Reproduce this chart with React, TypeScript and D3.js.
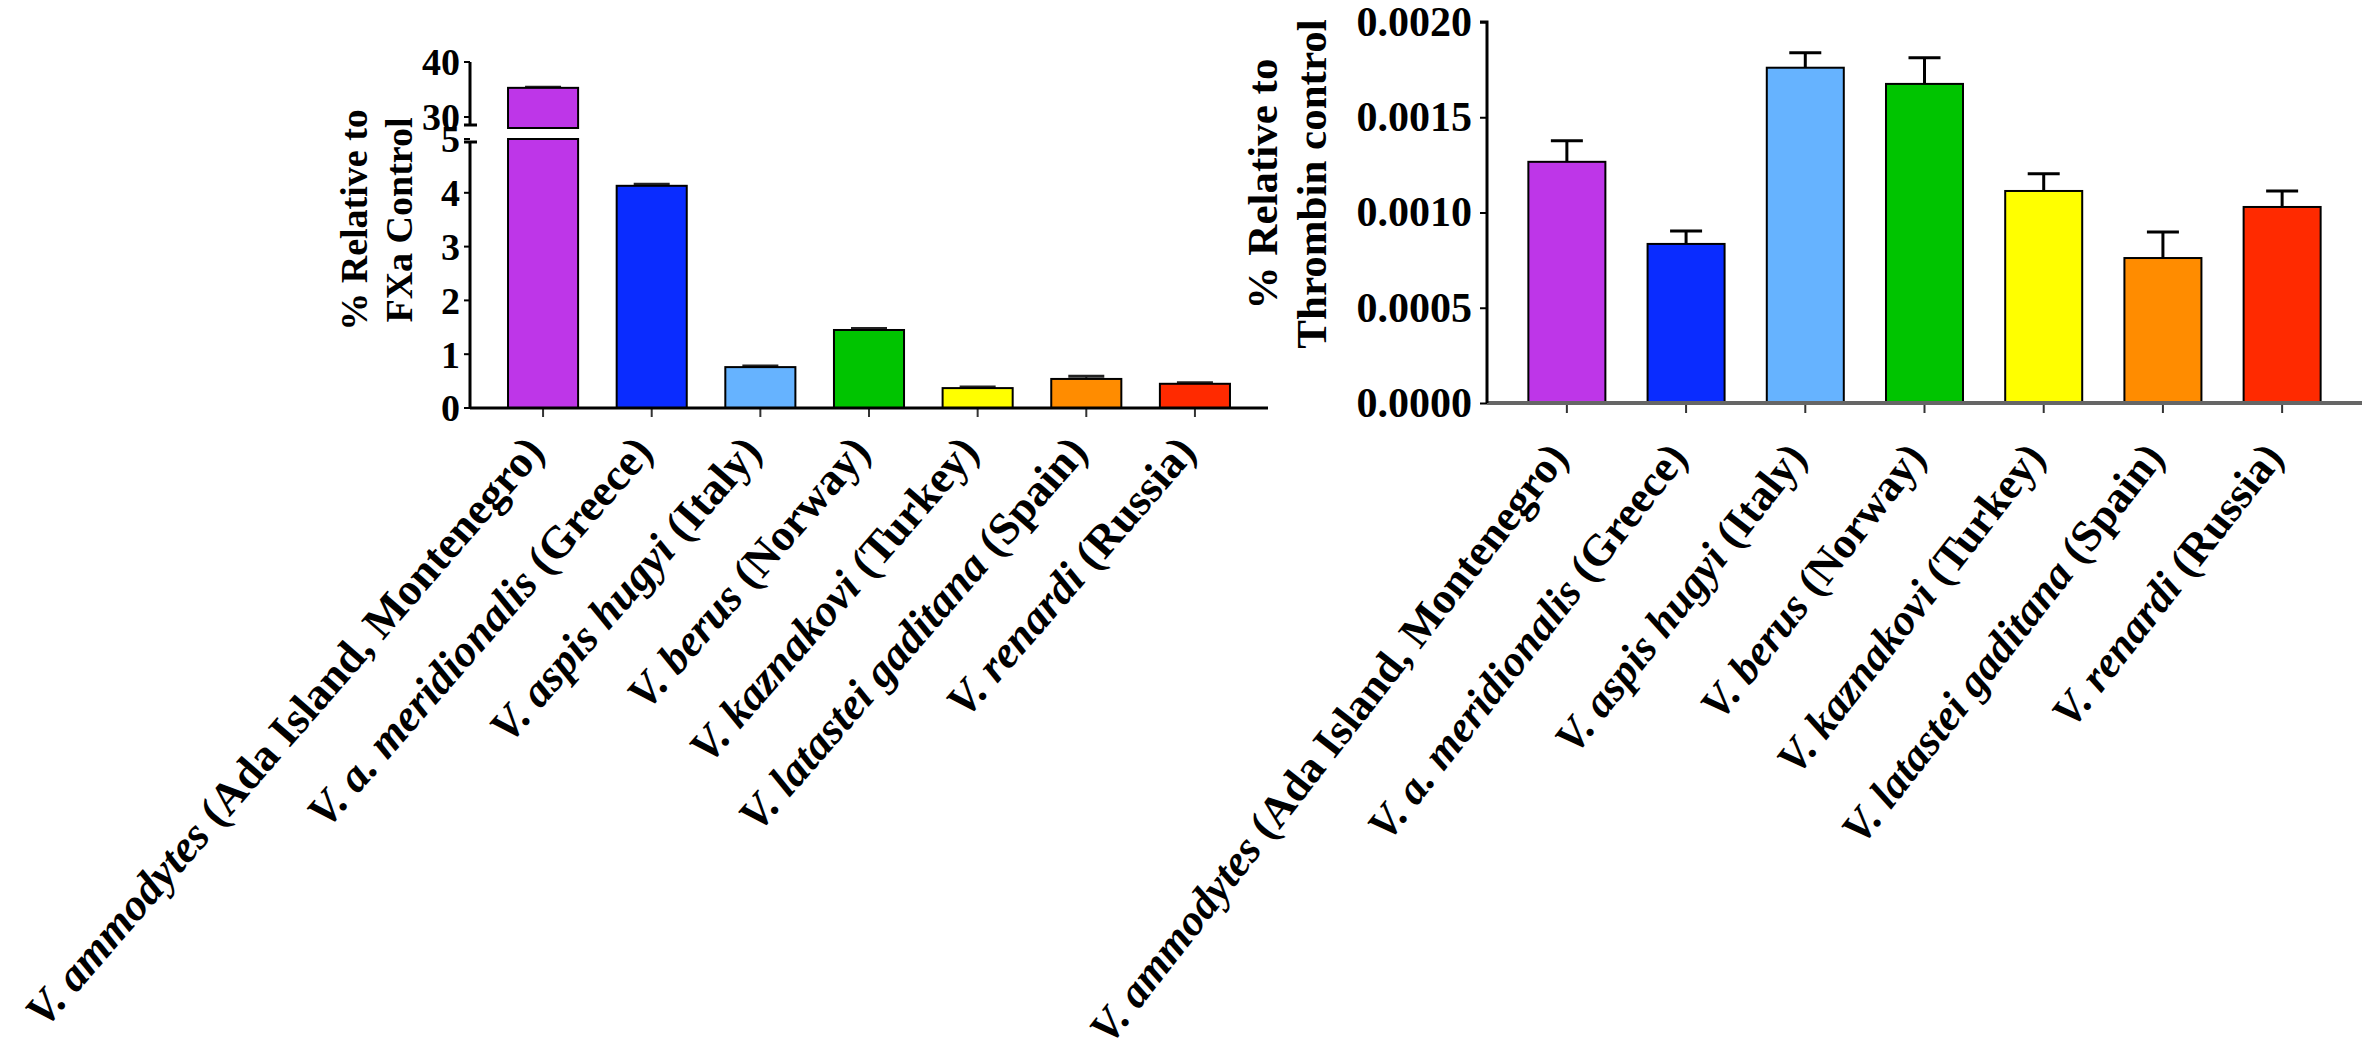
import React, { useEffect, useRef } from "react";
import * as d3 from "d3";

const species = [
  "V. ammodytes",
  "V. a. meridionalis",
  "V. aspis hugyi",
  "V. berus",
  "V. kaznakovi",
  "V. latastei gaditana",
  "V. renardi",
];
const origins = [
  "(Ada Island, Montenegro)",
  "(Greece)",
  "(Italy)",
  "(Norway)",
  "(Turkey)",
  "(Spain)",
  "(Russia)",
];
const barColors = ["#BE36E8", "#0A2CFF", "#66B3FF", "#00C400", "#FFFF00", "#FF8C00", "#FF2A00"];

// FXa panel (broken axis)
const fxaMean = [35.3, 4.13, 0.76, 1.45, 0.37, 0.54, 0.45];
const fxaSem = [0.1, 0.03, 0.02, 0.03, 0.02, 0.05, 0.02];
const fxaLowTicks = [0, 1, 2, 3, 4, 5];
const fxaHighTicks = [30, 40];

// Thrombin panel
const thrMean = [0.001266, 0.000835, 0.00176, 0.001675, 0.001113, 0.000761, 0.001029];
const thrSem = [0.00011, 0.000068, 0.000078, 0.000137, 0.00009, 0.000137, 0.000084];
const thrTicks = [0, 0.0005, 0.001, 0.0015, 0.002];

const FONT = "'Liberation Serif', 'Times New Roman', serif";

const App = () => {
  const ref = useRef(null);

  useEffect(() => {
    const svg = d3.select(ref.current);
    svg.selectAll("*").remove();
    svg.style("font-family", FONT).style("font-weight", "bold");

    // rotated category labels: italic species name + upright origin
    const addLabels = (g, x, y0, size, angle, dx, dy) => {
      species.forEach((s, i) => {
        const cx = x(s) + x.bandwidth() / 2;
        const t = g
          .append("text")
          .attr("text-anchor", "end")
          .attr("font-size", size)
          .attr("transform", `translate(${cx + dx},${y0 + dy}) rotate(${-angle})`);
        t.append("tspan").attr("font-style", "italic").text(s + " ");
        t.append("tspan").text(origins[i]);
      });
    };

    // ---------- left: FXa ----------
    const L = svg.append("g");
    const xL = d3.scaleBand().domain(species).range([470, 1268]).paddingInner(0.355).paddingOuter(0.35);
    const yLow = d3.scaleLinear().domain([0, 5]).range([408, 139]);
    const yHigh = d3.scaleLinear().domain([28, 40]).range([128, 62]);

    species.forEach((s, i) => {
      const v = fxaMean[i];
      const x0 = xL(s);
      const w = xL.bandwidth();
      const cx = x0 + w / 2;
      const top = v > 5 ? yHigh(v) : yLow(v);
      const errTop = v > 5 ? yHigh(v + fxaSem[i]) : yLow(v + fxaSem[i]);
      L.append("line").attr("x1", cx).attr("x2", cx).attr("y1", top).attr("y2", errTop).attr("stroke", "#000").attr("stroke-width", 2);
      L.append("line").attr("x1", cx - 18).attr("x2", cx + 18).attr("y1", errTop).attr("y2", errTop).attr("stroke", "#222").attr("stroke-width", 3);
      if (v > 5) {
        L.append("rect").attr("x", x0).attr("width", w).attr("y", yLow(5)).attr("height", yLow(0) - yLow(5))
          .attr("fill", barColors[i]).attr("stroke", "#000").attr("stroke-width", 2);
        L.append("rect").attr("x", x0).attr("width", w).attr("y", top).attr("height", yHigh(28) - top)
          .attr("fill", barColors[i]).attr("stroke", "#000").attr("stroke-width", 2);
      } else {
        L.append("rect").attr("x", x0).attr("width", w).attr("y", top).attr("height", yLow(0) - top)
          .attr("fill", barColors[i]).attr("stroke", "#000").attr("stroke-width", 2);
      }
      L.append("line").attr("x1", cx).attr("x2", cx).attr("y1", yLow(0)).attr("y2", yLow(0) + 9).attr("stroke", "#333").attr("stroke-width", 2);
    });

    // axes
    L.append("line").attr("x1", 470).attr("x2", 1268).attr("y1", yLow(0)).attr("y2", yLow(0)).attr("stroke", "#000").attr("stroke-width", 3);
    L.append("line").attr("x1", 470).attr("x2", 470).attr("y1", yLow(0)).attr("y2", yLow(5) + 3).attr("stroke", "#000").attr("stroke-width", 3);
    L.append("line").attr("x1", 470).attr("x2", 470).attr("y1", yHigh(40)).attr("y2", yHigh(28) - 3).attr("stroke", "#000").attr("stroke-width", 3);
    [yHigh(28) - 3, yLow(5) + 3].forEach((yy) =>
      L.append("line").attr("x1", 464).attr("x2", 477).attr("y1", yy).attr("y2", yy).attr("stroke", "#000").attr("stroke-width", 3)
    );
    const tickL = (yy, label) => {
      L.append("line").attr("x1", 464).attr("x2", 470).attr("y1", yy).attr("y2", yy).attr("stroke", "#000").attr("stroke-width", 2);
      L.append("text").attr("x", 460).attr("y", yy).attr("dy", "0.35em").attr("text-anchor", "end").attr("font-size", 38).text(label);
    };
    fxaLowTicks.forEach((t) => tickL(yLow(t), t));
    fxaHighTicks.forEach((t) => tickL(yHigh(t), t));

    const tL = L.append("text").attr("font-size", 38).attr("text-anchor", "middle").attr("transform", "translate(367,220) rotate(-90)");
    tL.append("tspan").attr("x", 0).attr("y", 0).text("% Relative to");
    tL.append("tspan").attr("x", 0).attr("y", 45).text("FXa Control");

    addLabels(L, xL, yLow(0), 45, 49, 3, 45);

    // ---------- right: Thrombin ----------
    const R = svg.append("g");
    const xR = d3.scaleBand().domain(species).range([1487, 2362]).paddingInner(0.354).paddingOuter(0.347);
    const yR = d3.scaleLinear().domain([0, 0.002]).range([403, 22]);

    species.forEach((s, i) => {
      const x0 = xR(s);
      const w = xR.bandwidth();
      const cx = x0 + w / 2;
      const top = yR(thrMean[i]);
      const errTop = yR(thrMean[i] + thrSem[i]);
      R.append("line").attr("x1", cx).attr("x2", cx).attr("y1", top).attr("y2", errTop).attr("stroke", "#000").attr("stroke-width", 3);
      R.append("line").attr("x1", cx - 16).attr("x2", cx + 16).attr("y1", errTop).attr("y2", errTop).attr("stroke", "#000").attr("stroke-width", 3);
      R.append("rect").attr("x", x0).attr("width", w).attr("y", top).attr("height", yR(0) - top)
        .attr("fill", barColors[i]).attr("stroke", "#000").attr("stroke-width", 2);
      R.append("line").attr("x1", cx).attr("x2", cx).attr("y1", yR(0)).attr("y2", yR(0) + 10).attr("stroke", "#333").attr("stroke-width", 2);
    });

    R.append("line").attr("x1", 1487).attr("x2", 2362).attr("y1", yR(0)).attr("y2", yR(0)).attr("stroke", "#666").attr("stroke-width", 4);
    const yAxisR = d3.axisLeft(yR).tickValues(thrTicks).tickFormat(d3.format(".4f")).tickSize(7).tickPadding(8);
    const ga = R.append("g").attr("transform", "translate(1487,0)").call(yAxisR);
    ga.select(".domain").attr("stroke-width", 3).attr("d", `M-7,${yR(0.002)}H0V${yR(0)}`);
    ga.selectAll(".tick line").attr("stroke-width", 2);
    ga.selectAll(".tick text").attr("font-size", 42).attr("font-family", FONT).attr("font-weight", "bold").attr("fill", "#000");

    const tR = R.append("text").attr("font-size", 43).attr("text-anchor", "middle").attr("transform", "translate(1277,184) rotate(-90)");
    tR.append("tspan").attr("x", 0).attr("y", 0).text("% Relative to");
    tR.append("tspan").attr("x", 0).attr("y", 49).text("Thrombin control");

    addLabels(R, xR, yR(0), 44, 52, 3, 55);
  }, []);

  return (
    <svg
      ref={ref}
      width={2362}
      height={1052}
      style={{ position: "absolute", left: 0, top: 0, background: "#fff" }}
    />
  );
};

export default App;
